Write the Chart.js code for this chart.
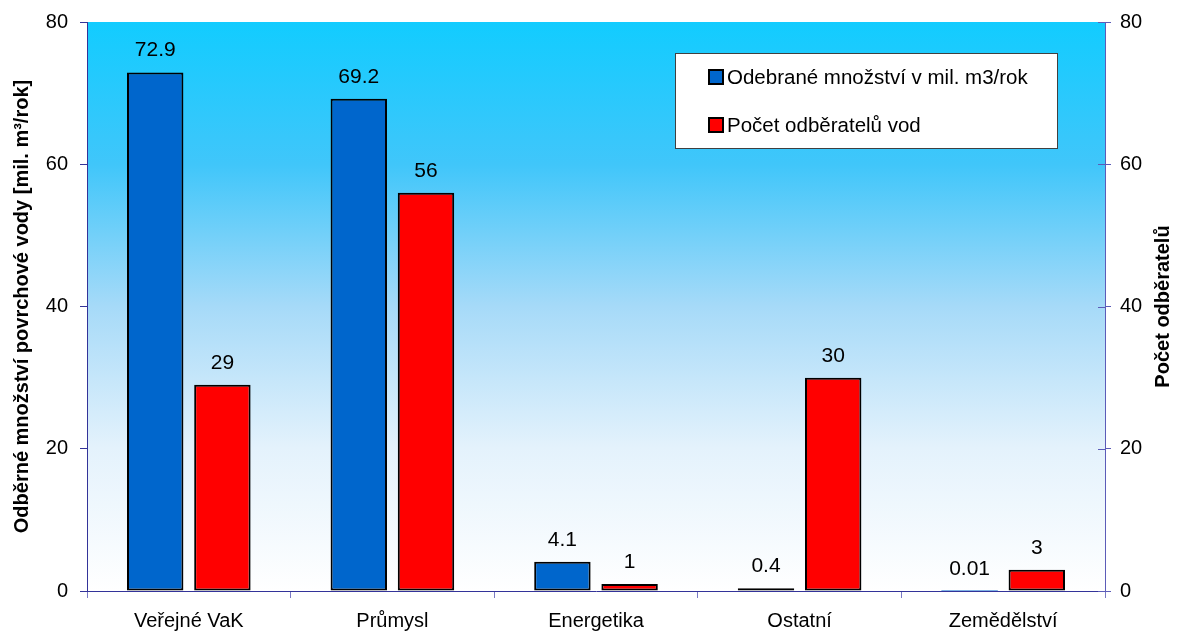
<!DOCTYPE html>
<html>
<head>
<meta charset="utf-8">
<script src="https://cdn.jsdelivr.net/npm/chart.js@4"></script>
<style>
  html, body { margin: 0; padding: 0; background: #ffffff; }
  #wrap { width: 1177px; height: 635px; }
</style>
</head>
<body>
<div id="wrap"><canvas id="c" width="1177" height="635"></canvas></div>
<script>
// Odběry povrchové vody podle odvětví
const categories = ['Veřejné VaK', 'Průmysl', 'Energetika', 'Ostatní', 'Zemědělství'];
const odebraneMnozstvi = [72.9, 69.2, 4.1, 0.4, 0.01];   // mil. m3/rok
const pocetOdberatelu = [29, 56, 1, 30, 3];              // počet odběratelů
const yTickValues = [0, 20, 40, 60, 80];
const seriesNames = ['Odebrané množství v mil. m3/rok', 'Počet odběratelů vod'];
const leftTitle = 'Odběrné množství povrchové vody [mil. m³/rok]';
const rightTitle = 'Počet odběratelů';

const FONT = "'Liberation Sans', Arial, sans-serif";
const AXIS_COLOR = '#333399';

// gradient plot background (cyan at the top fading to white)
const plotBackground = {
  id: 'plotBackground',
  beforeDraw(chart) {
    const { ctx, chartArea: a } = chart;
    const g = ctx.createLinearGradient(0, a.top, 0, a.bottom);
    g.addColorStop(0, '#12ccff');
    g.addColorStop(0.25, '#40c6fa');
    g.addColorStop(0.5, '#a6daf8');
    g.addColorStop(0.75, '#e4f2fc');
    g.addColorStop(1, '#ffffff');
    ctx.save();
    ctx.fillStyle = g;
    ctx.fillRect(a.left, a.top, a.right - a.left, a.bottom - a.top);
    ctx.restore();
  }
};

// value labels above every bar
const valueLabels = {
  id: 'valueLabels',
  afterDatasetsDraw(chart) {
    const { ctx } = chart;
    ctx.save();
    ctx.fillStyle = '#000';
    ctx.font = '21px ' + FONT;
    ctx.textAlign = 'center';
    ctx.textBaseline = 'alphabetic';
    chart.data.datasets.forEach((ds, i) => {
      chart.getDatasetMeta(i).data.forEach((bar, j) => {
        ctx.fillText(String(ds.data[j]), bar.x, bar.y - 16);
      });
    });
    ctx.restore();
  }
};

// legend box, axis titles and the inner halves of the right-hand ticks
const decorations = {
  id: 'decorations',
  afterDraw(chart) {
    const { ctx, chartArea: a } = chart;
    ctx.save();

    // right axis ticks crossing the axis line
    const y2 = chart.scales.y2;
    ctx.strokeStyle = '#5c5cb8';
    ctx.lineWidth = 1;
    y2.ticks.forEach(t => {
      const py = Math.round(y2.getPixelForValue(t.value)) + 0.5;
      ctx.beginPath();
      ctx.moveTo(a.right - 7, py);
      ctx.lineTo(a.right, py);
      ctx.stroke();
    });

    // axis titles
    const midY = (a.top + a.bottom) / 2;
    ctx.fillStyle = '#000';
    ctx.font = 'bold 20px ' + FONT;
    ctx.textAlign = 'center';
    ctx.textBaseline = 'middle';
    ctx.save();
    ctx.translate(22, midY);
    ctx.rotate(-Math.PI / 2);
    ctx.fillText(leftTitle, 0, 0);
    ctx.restore();
    ctx.save();
    ctx.translate(1163, midY);
    ctx.rotate(-Math.PI / 2);
    ctx.fillText(rightTitle, 0, 0);
    ctx.restore();

    // legend
    const lx = 675, ly = 53, lw = 382, lh = 95;
    ctx.fillStyle = '#ffffff';
    ctx.fillRect(lx, ly, lw, lh);
    ctx.strokeStyle = '#404040';
    ctx.lineWidth = 1;
    ctx.strokeRect(lx + 0.5, ly + 0.5, lw, lh);
    ctx.font = '20.5px ' + FONT;
    ctx.textAlign = 'left';
    ctx.textBaseline = 'middle';
    chart.data.datasets.forEach((ds, i) => {
      const cy = ly + 24 + i * 48;
      ctx.fillStyle = ds.backgroundColor;
      ctx.fillRect(709, cy - 7, 14, 14);
      ctx.strokeStyle = '#000';
      ctx.lineWidth = 2;
      ctx.strokeRect(709, cy - 7, 14, 14);
      ctx.fillStyle = '#000';
      ctx.fillText(ds.label, 727, cy + 1);
    });
    ctx.restore();
  }
};

// outlines vanish on bars too thin to show any height
const barBorder = (c) => (Math.abs(c.raw) < 0.05 ? 0 : 2);

// fixed axis sizes so the plot area sits at 87..1105 x 22..591
const fitVertical = (width) => (s) => {
  s.width = width;
  s.paddingTop = 0;
  s.paddingBottom = 0;
};

new Chart(document.getElementById('c'), {
  type: 'bar',
  data: {
    labels: categories,
    datasets: [
      {
        label: seriesNames[0],
        data: odebraneMnozstvi,
        yAxisID: 'y',
        backgroundColor: '#0066cc',
        borderColor: '#000000',
        borderWidth: barBorder,
        borderSkipped: false,
        categoryPercentage: 0.66,
        barPercentage: 0.84
      },
      {
        label: seriesNames[1],
        data: pocetOdberatelu,
        yAxisID: 'y2',
        backgroundColor: '#ff0000',
        borderColor: '#000000',
        borderWidth: barBorder,
        borderSkipped: false,
        categoryPercentage: 0.66,
        barPercentage: 0.84
      }
    ]
  },
  options: {
    responsive: false,
    animation: false,
    devicePixelRatio: 1,
    layout: { padding: { top: 22, left: 0, right: 0, bottom: 0 } },
    plugins: {
      legend: { display: false },
      tooltip: { enabled: false }
    },
    scales: {
      x: {
        grid: { drawOnChartArea: false, offset: true, tickLength: 7, color: '#7a7ac4' },
        border: { color: AXIS_COLOR, width: 1 },
        ticks: { color: '#000', font: { family: FONT, size: 20 }, padding: 11, maxRotation: 0 },
        afterFit(s) { s.height = 44; s.paddingLeft = 0; s.paddingRight = 0; }
      },
      y: {
        position: 'left',
        min: 0,
        max: 80,
        afterBuildTicks(s) { s.ticks = yTickValues.map(v => ({ value: v })); },
        grid: { drawOnChartArea: false, tickLength: 7, color: AXIS_COLOR },
        border: { color: AXIS_COLOR, width: 1 },
        ticks: { color: '#000', font: { family: FONT, size: 20 }, padding: 12 },
        afterFit: fitVertical(87)
      },
      y2: {
        position: 'right',
        min: 0,
        max: 80,
        afterBuildTicks(s) { s.ticks = yTickValues.map(v => ({ value: v })); },
        grid: { drawOnChartArea: false, tickLength: 6, color: '#5c5cb8' },
        border: { color: '#5c5cb8', width: 1 },
        ticks: { color: '#000', font: { family: FONT, size: 20 }, padding: 9 },
        afterFit: fitVertical(72)
      }
    }
  },
  plugins: [plotBackground, valueLabels, decorations]
});
</script>
</body>
</html>
